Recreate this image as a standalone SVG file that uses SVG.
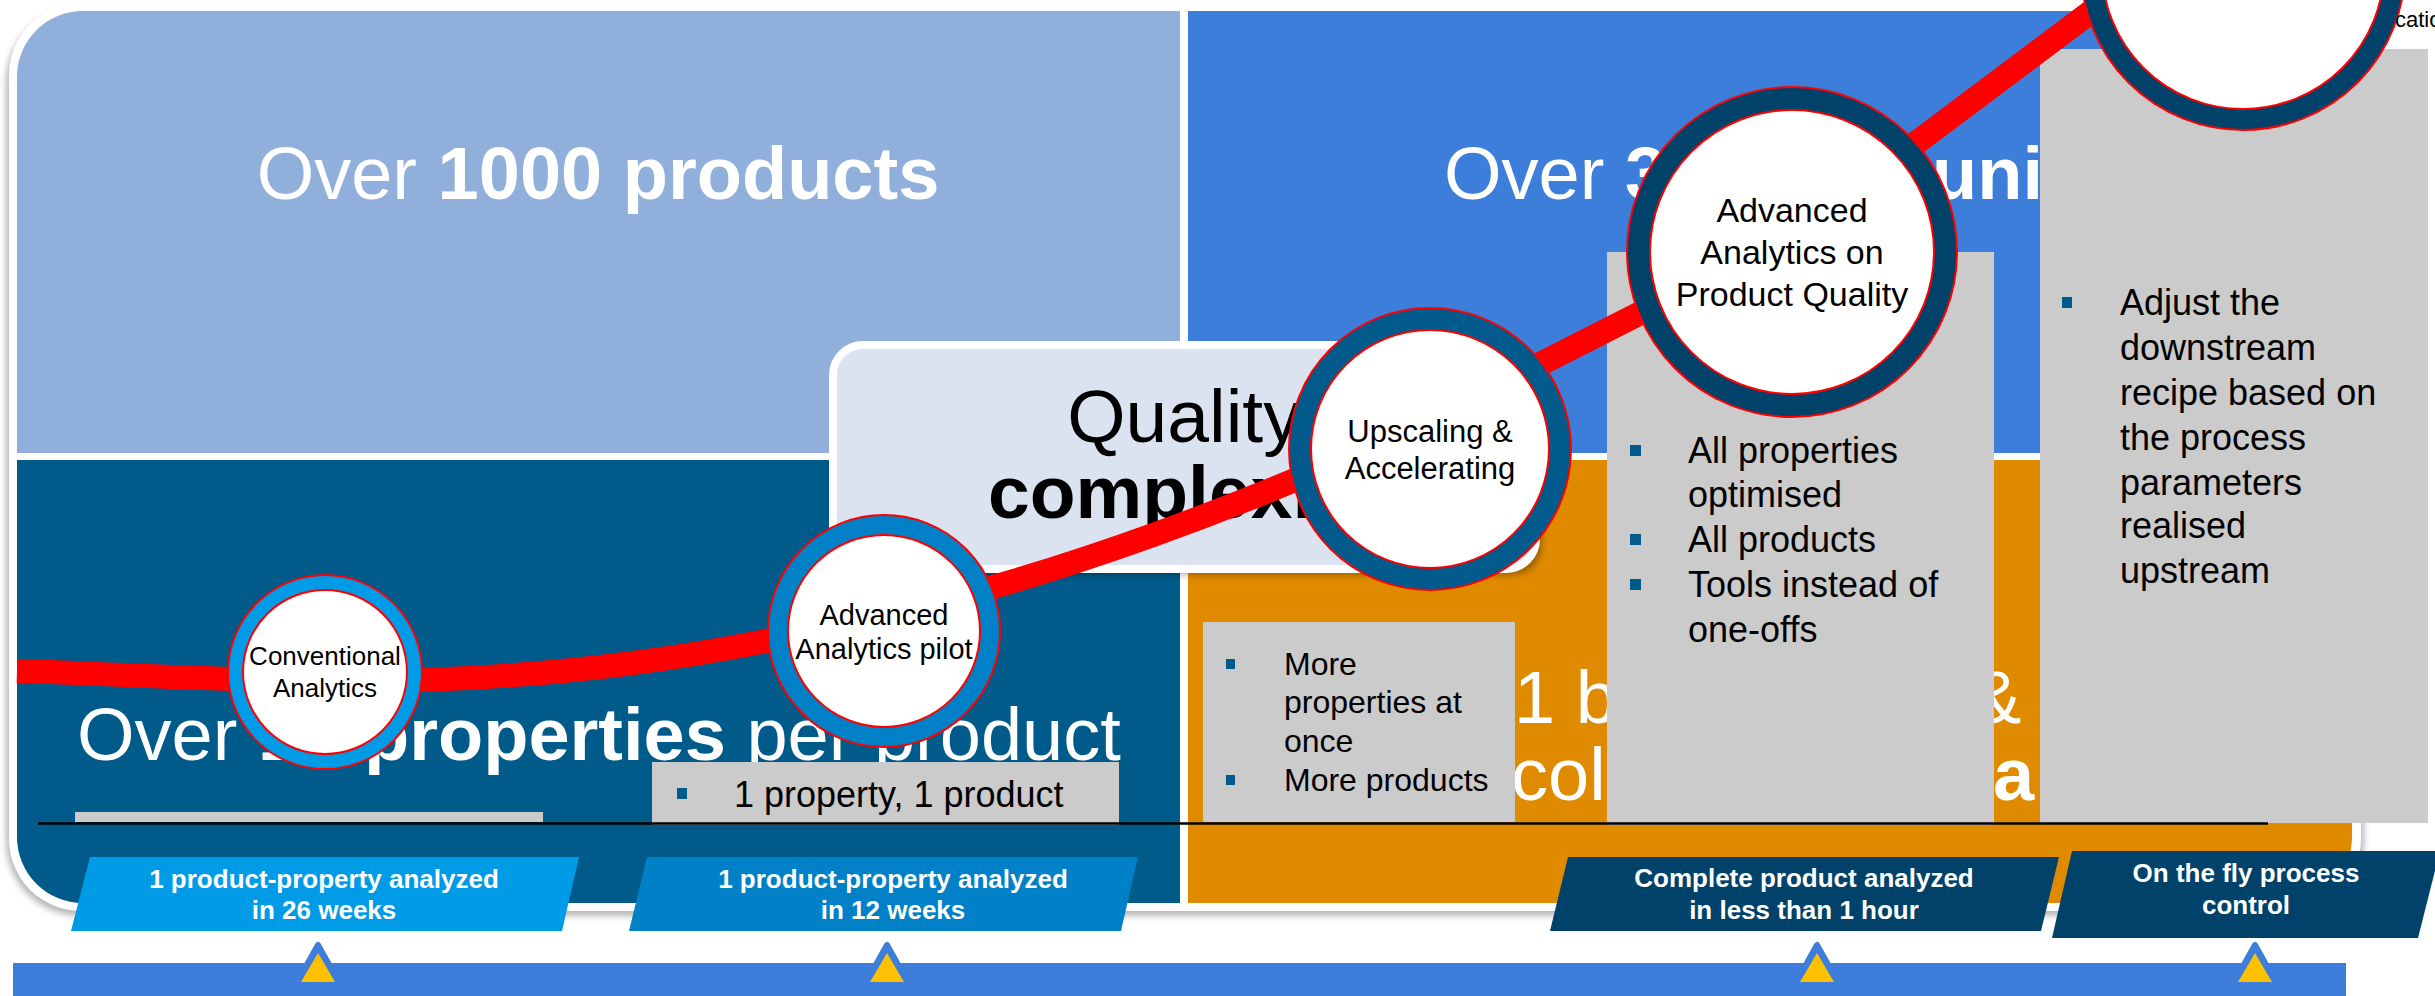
<svg xmlns="http://www.w3.org/2000/svg" width="2435" height="996" viewBox="0 0 2435 996">
<defs>
<style>
text{font-family:"Liberation Sans",Arial,sans-serif}
.big{font-size:74px;fill:#fff}
.b{font-weight:bold}
.ct{fill:#000;text-anchor:middle}
.lbl{font-size:26px;font-weight:bold;fill:#fff;text-anchor:middle}
.bt{font-size:36px;fill:#000}
.sq{fill:#005A8C}
.gbox{fill:#CBCBCB}
.ring{stroke:#FF0000;stroke-width:2}
.inner{fill:#fff;stroke:#FF0000;stroke-width:2}
.curve{fill:none;stroke:#FF0000;stroke-width:24}
</style>
<clipPath id="frameClip"><rect x="17" y="11" width="2335" height="892" rx="66"/></clipPath>
<filter id="blur" x="-5%" y="-5%" width="110%" height="110%"><feGaussianBlur stdDeviation="3"/></filter>
<g id="tri">
<polygon points="0,945 -23,986 23,986" fill="#3E7EDB" stroke="#3E7EDB" stroke-width="6" stroke-linejoin="round"/>
<polygon points="0,953 -17,982 17,982" fill="#FFC000"/>
</g>
</defs>
<rect width="2435" height="996" fill="#fff"/>
<g id="frame">
<rect x="6" y="8" width="2358" height="908" rx="74" fill="#B8B8B8" filter="url(#blur)"/>
<rect x="9" y="3" width="2352" height="908" rx="72" fill="#fff"/>
<g clip-path="url(#frameClip)">
<rect x="17" y="11" width="1163" height="442" fill="#91AFDB"/>
<rect x="1188" y="11" width="1164" height="442" fill="#3E7EDB"/>
<rect x="17" y="460" width="1163" height="443" fill="#005A8A"/>
<rect x="1188" y="460" width="1164" height="443" fill="#E08A00"/>
</g>
</g>
<g id="quadrant-texts">
<text class="big" x="598" y="199" text-anchor="middle">Over <tspan class="b">1000 products</tspan></text>
<text class="big" x="1444" y="199">Over <tspan class="b">3</tspan></text>
<text class="big b" x="1932" y="199">units</text>
<text class="big" x="77" y="760">Over <tspan class="b">1</tspan><tspan class="b" x="364">properties</tspan> per product</text>
<text class="big" x="1514" y="723">1 b</text>
<text class="big" x="1972" y="723">&amp;</text>
<text class="big" x="1511" y="800">col</text>
<text class="big b" x="1993" y="800">a</text>
</g>
<g id="quality-box">
<rect x="839" y="351" width="703" height="224" rx="30" fill="#000" opacity="0.3" filter="url(#blur)"/>
<rect x="833" y="345" width="703" height="224" rx="30" fill="#DCE3F0" stroke="#fff" stroke-width="8"/>
<text class="ct" x="1184" y="442" font-size="75">Quality</text>
<text class="ct b" x="1184" y="518" font-size="75">complexity</text>
</g>
<g id="box-strip"><rect class="gbox" x="75" y="812" width="468" height="10"/></g>
<g id="box-1property">
<rect class="gbox" x="652" y="762" width="467" height="63"/>
<rect class="sq" x="677" y="788" width="10" height="11"/>
<text class="bt" x="734" y="807">1 property, 1 product</text>
</g>
<g id="box-more">
<rect class="gbox" x="1203" y="622" width="312" height="200"/>
<rect class="sq" x="1226" y="659" width="9" height="10"/>
<rect class="sq" x="1226" y="775" width="9" height="10"/>
<text font-size="32" fill="#000"><tspan x="1284" y="675">More</tspan><tspan x="1284" y="713">properties at</tspan><tspan x="1284" y="752">once</tspan><tspan x="1284" y="791">More products</tspan></text>
</g>
<g id="box-all">
<rect class="gbox" x="1607" y="252" width="387" height="573"/>
<rect class="sq" x="1630" y="445" width="11" height="11"/>
<rect class="sq" x="1630" y="534" width="11" height="11"/>
<rect class="sq" x="1630" y="579" width="11" height="11"/>
<text class="bt"><tspan x="1688" y="463">All properties</tspan><tspan x="1688" y="507">optimised</tspan><tspan x="1688" y="552">All products</tspan><tspan x="1688" y="597">Tools instead of</tspan><tspan x="1688" y="642">one-offs</tspan></text>
</g>
<g id="box-adjust">
<rect class="gbox" x="2040" y="49" width="388" height="774"/>
<rect class="sq" x="2062" y="297" width="10" height="11"/>
<text class="bt"><tspan x="2120" y="315">Adjust the</tspan><tspan x="2120" y="360">downstream</tspan><tspan x="2120" y="405">recipe based on</tspan><tspan x="2120" y="450">the process</tspan><tspan x="2120" y="495">parameters</tspan><tspan x="2120" y="538">realised</tspan><tspan x="2120" y="583">upstream</tspan></text>
</g>
<g id="connectors">
<path class="curve" d="M 17 671 C 120 674, 200 680, 325 681 C 550 683, 720 655, 884 615 C 1050 578, 1250 505, 1430 420 L 1792 236 L 2140 -25"/>
</g>
<g id="node-conventional">
<circle class="ring" cx="325" cy="672" r="97" fill="#009BE6"/>
<circle class="inner" cx="325" cy="672" r="82"/>
<text class="ct" font-size="26"><tspan x="325" y="665">Conventional</tspan><tspan x="325" y="697">Analytics</tspan></text>
</g>
<g id="node-pilot">
<circle class="ring" cx="884" cy="631" r="116" fill="#0080C6"/>
<circle class="inner" cx="884" cy="631" r="96"/>
<text class="ct" font-size="29"><tspan x="884" y="625">Advanced</tspan><tspan x="884" y="659">Analytics pilot</tspan></text>
</g>
<g id="node-upscaling">
<circle class="ring" cx="1430" cy="449" r="141" fill="#005A8C"/>
<circle class="inner" cx="1430" cy="449" r="119"/>
<text class="ct" font-size="31"><tspan x="1430" y="442">Upscaling &amp;</tspan><tspan x="1430" y="479">Accelerating</tspan></text>
</g>
<g id="node-product-quality">
<circle class="ring" cx="1792" cy="252" r="165" fill="#00426A"/>
<circle class="inner" cx="1792" cy="252" r="142"/>
<text class="ct" font-size="34"><tspan x="1792" y="222">Advanced</tspan><tspan x="1792" y="264">Analytics on</tspan><tspan x="1792" y="306">Product Quality</tspan></text>
</g>
<g id="node-top">
<circle class="ring" cx="2243" cy="-32" r="162" fill="#00426A"/>
<circle class="inner" cx="2243" cy="-32" r="141"/>
</g>
<text x="2395" y="27" font-size="22" fill="#000">catio</text>
<g id="baseline"><line x1="38" y1="823.5" x2="2268" y2="823.5" stroke="#000" stroke-width="2.5"/></g>
<g id="label-26weeks">
<polygon points="90,857 579,857 562,931 71,931" fill="#009BE6"/>
<text class="lbl"><tspan x="324" y="888">1 product-property analyzed</tspan><tspan x="324" y="919">in 26 weeks</tspan></text>
</g>
<g id="label-12weeks">
<polygon points="647,857 1138,857 1121,931 629,931" fill="#0080C6"/>
<text class="lbl"><tspan x="893" y="888">1 product-property analyzed</tspan><tspan x="893" y="919">in 12 weeks</tspan></text>
</g>
<g id="label-1hour">
<polygon points="1568,857 2059,857 2041,931 1550,931" fill="#00426A"/>
<text class="lbl"><tspan x="1804" y="887">Complete product analyzed</tspan><tspan x="1804" y="919">in less than 1 hour</tspan></text>
</g>
<g id="label-onthefly">
<polygon points="2072,851 2440,851 2418,938 2052,938" fill="#00426A"/>
<text class="lbl"><tspan x="2246" y="882">On the fly process</tspan><tspan x="2246" y="914">control</tspan></text>
</g>
<g id="timeline">
<rect x="13" y="963" width="2333" height="33" fill="#3E7EDB"/>
<use href="#tri" x="318"/>
<use href="#tri" x="887"/>
<use href="#tri" x="1817"/>
<use href="#tri" x="2255"/>
</g>
</svg>
